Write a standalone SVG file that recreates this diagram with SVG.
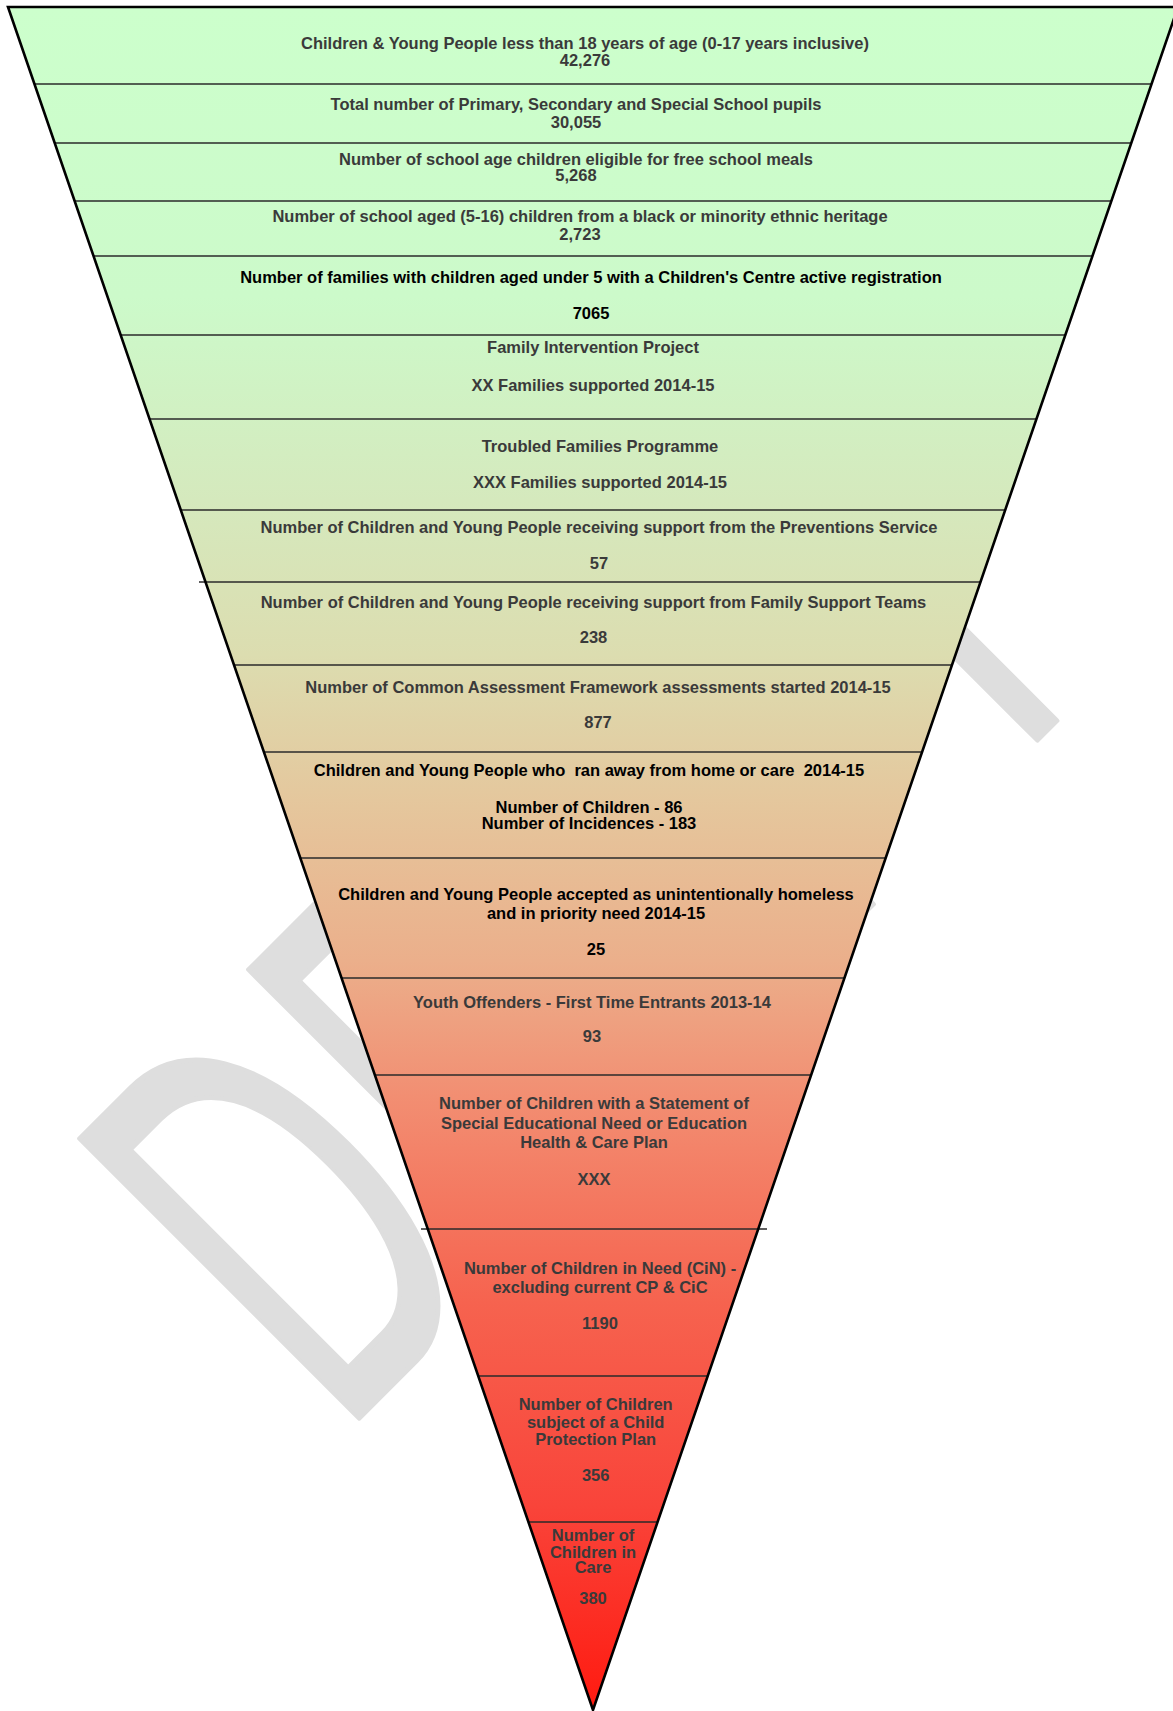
<svg xmlns="http://www.w3.org/2000/svg" width="1173" height="1711" viewBox="0 0 1173 1711">
<defs>
<linearGradient id="fg" gradientUnits="userSpaceOnUse" x1="0" y1="7" x2="0" y2="1710">
<stop offset="0" stop-color="#CCFFCC"/>
<stop offset="0.17" stop-color="#CCFACA"/>
<stop offset="0.29" stop-color="#D5E9BD"/>
<stop offset="0.38" stop-color="#DCDDB0"/>
<stop offset="0.47" stop-color="#E5C69C"/>
<stop offset="0.56" stop-color="#EBAF8B"/>
<stop offset="0.64" stop-color="#F28E72"/>
<stop offset="0.76" stop-color="#F6634F"/>
<stop offset="0.88" stop-color="#F9443A"/>
<stop offset="1" stop-color="#FF1A10"/>
</linearGradient>
</defs>
<style>
.seg{fill:url(#fg);stroke:none}
text{font-family:"Liberation Sans",Arial,sans-serif;font-size:16.5px;font-weight:bold;text-anchor:middle;fill:#3A3A3A}
text.k{fill:#000}
.div{stroke:#2A2A2A;stroke-width:1.5;fill:none}
.outline{fill:none;stroke:#000;stroke-width:2.6;stroke-linejoin:miter}
.wm{font-family:"Liberation Sans",Arial,sans-serif;font-size:317px;font-weight:normal;text-anchor:start;letter-spacing:10px;fill:#DEDEDE;stroke:#DEDEDE;stroke-width:3;stroke-linejoin:round}
</style>
<rect width="1173" height="1711" fill="#fff"/>
<text class="wm" x="-24" y="0" transform="translate(357,1420) rotate(-45) scale(1,1.81)">DRAFT</text>

<g id="n1"><polygon class="seg" points="8,7 1178,7 1151.6,84 34.4,84"/>
<text x="585" y="49">Children &amp; Young People less than 18 years of age (0-17 years inclusive)</text>
<text x="585" y="66">42,276</text></g>
<g id="n2"><polygon class="seg" points="34.4,84 1151.6,84 1131.3,143 54.7,143"/>
<text x="576" y="110">Total number of Primary, Secondary and Special School pupils</text>
<text x="576" y="128">30,055</text></g>
<g id="n3"><polygon class="seg" points="54.7,143 1131.3,143 1111.4,201 74.6,201"/>
<text x="576" y="165">Number of school age children eligible for free school meals</text>
<text x="576" y="181">5,268</text></g>
<g id="n4"><polygon class="seg" points="74.6,201 1111.4,201 1092.5,256 93.5,256"/>
<text x="580" y="222">Number of school aged (5-16) children from a black or minority ethnic heritage</text>
<text x="580" y="240">2,723</text></g>
<g id="n5"><polygon class="seg" points="93.5,256 1092.5,256 1065.3,335 120.7,335"/>
<text class="k" x="591" y="283">Number of families with children aged under 5 with a Children's Centre active registration</text>
<text class="k" x="591" y="319">7065</text></g>
<g id="n6"><polygon class="seg" points="120.7,335 1065.3,335 1036.5,419 149.5,419"/>
<text x="593" y="353">Family Intervention Project</text>
<text x="593" y="391">XX Families supported 2014-15</text></g>
<g id="n7"><polygon class="seg" points="149.5,419 1036.5,419 1005.2,510 180.8,510"/>
<text x="600" y="452">Troubled Families Programme</text>
<text x="600" y="488">XXX Families supported 2014-15</text></g>
<g id="n8"><polygon class="seg" points="180.8,510 1005.2,510 980.5,582 205.5,582"/>
<text x="599" y="533">Number of Children and Young People receiving support from the Preventions Service</text>
<text x="599" y="569">57</text></g>
<g id="n9"><polygon class="seg" points="205.5,582 980.5,582 952,665 234,665"/>
<text x="593.5" y="608">Number of Children and Young People receiving support from Family Support Teams</text>
<text x="593.5" y="643">238</text></g>
<g id="n10"><polygon class="seg" points="234,665 952,665 922,752 264,752"/>
<text x="598" y="693">Number of Common Assessment Framework assessments started 2014-15</text>
<text x="598" y="728">877</text></g>
<g id="n11"><polygon class="seg" points="264,752 922,752 885.7,858 300.3,858"/>
<text class="k" x="589" y="776" xml:space="preserve">Children and Young People who  ran away from home or care  2014-15</text>
<text class="k" x="589" y="813">Number of Children - 86</text>
<text class="k" x="589" y="829">Number of Incidences - 183</text></g>
<g id="n12"><polygon class="seg" points="300.3,858 885.7,858 844.5,978 341.5,978"/>
<text class="k" x="596" y="900">Children and Young People accepted as unintentionally homeless</text>
<text class="k" x="596" y="919">and in priority need 2014-15</text>
<text class="k" x="596" y="955">25</text></g>
<g id="n13"><polygon class="seg" points="341.5,978 844.5,978 811.1,1075 374.9,1075"/>
<text x="592" y="1008">Youth Offenders - First Time Entrants 2013-14</text>
<text x="592" y="1042">93</text></g>
<g id="n14"><polygon class="seg" points="374.9,1075 811.1,1075 758.2,1229 427.8,1229"/>
<text x="594" y="1109">Number of Children with a Statement of</text>
<text x="594" y="1129">Special Educational Need or Education</text>
<text x="594" y="1148">Health &amp; Care Plan</text>
<text x="594" y="1185">XXX</text></g>
<g id="n15"><polygon class="seg" points="427.8,1229 758.2,1229 707.7,1376 478.3,1376"/>
<text x="600" y="1274">Number of Children in Need (CiN) -</text>
<text x="600" y="1293">excluding current CP &amp; CiC</text>
<text x="600" y="1329">1190</text></g>
<g id="n16"><polygon class="seg" points="478.3,1376 707.7,1376 657.6,1522 528.4,1522"/>
<text x="595.7" y="1410">Number of Children</text>
<text x="595.7" y="1428">subject of a Child</text>
<text x="595.7" y="1445">Protection Plan</text>
<text x="595.7" y="1481">356</text></g>
<g id="n17"><polygon class="seg" points="528.4,1522 657.6,1522 593,1710"/>
<text x="593" y="1541">Number of</text>
<text x="593" y="1558">Children in</text>
<text x="593" y="1573">Care</text>
<text x="593" y="1604">380</text></g>

<g id="connectors">
<line class="div" x1="34.4" y1="84" x2="1151.6" y2="84"/>
<line class="div" x1="54.7" y1="143" x2="1131.3" y2="143"/>
<line class="div" x1="74.6" y1="201" x2="1111.4" y2="201"/>
<line class="div" x1="93.5" y1="256" x2="1092.5" y2="256"/>
<line class="div" x1="120.7" y1="335" x2="1065.3" y2="335"/>
<line class="div" x1="149.5" y1="419" x2="1036.5" y2="419"/>
<line class="div" x1="180.8" y1="510" x2="1005.2" y2="510"/>
<line class="div" x1="199" y1="582" x2="980.5" y2="582"/>
<line class="div" x1="234" y1="665" x2="952" y2="665"/>
<line class="div" x1="264" y1="752" x2="922" y2="752"/>
<line class="div" x1="300.3" y1="858" x2="885.7" y2="858"/>
<line class="div" x1="341.5" y1="978" x2="844.5" y2="978"/>
<line class="div" x1="374.9" y1="1075" x2="811.1" y2="1075"/>
<line class="div" x1="421" y1="1229" x2="767" y2="1229"/>
<line class="div" x1="478.3" y1="1376" x2="707.7" y2="1376"/>
<line class="div" x1="528.4" y1="1522" x2="657.6" y2="1522"/>
</g>
<polygon class="outline" points="8,7 1178,7 593,1710"/>
</svg>
